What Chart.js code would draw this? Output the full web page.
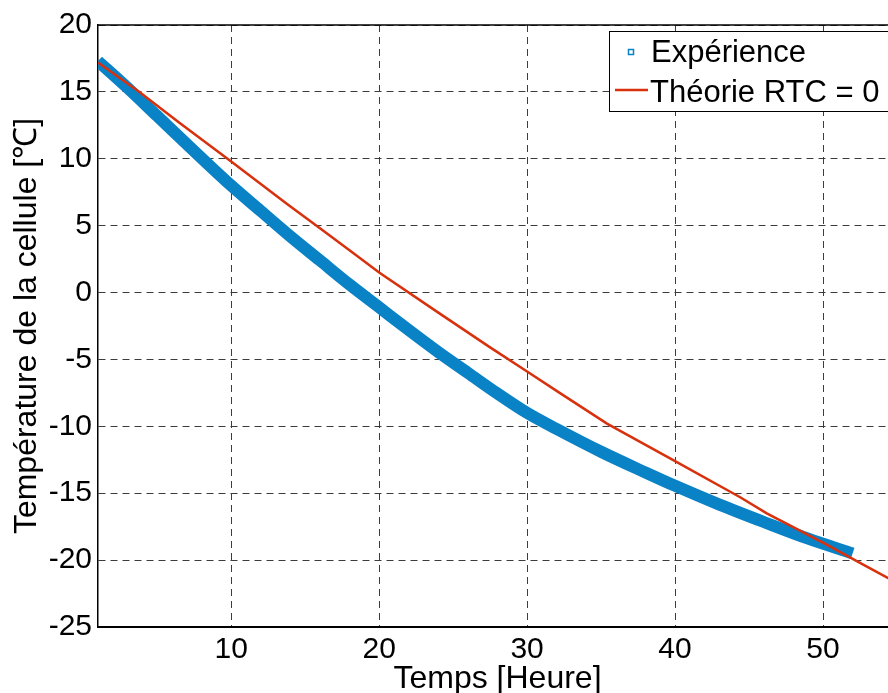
<!DOCTYPE html>
<html>
<head>
<meta charset="utf-8">
<script src="https://cdn.jsdelivr.net/npm/chart.js@4.4.1/dist/chart.umd.min.js"></script>
<style>
  html, body { margin: 0; padding: 0; background: #fff; overflow: hidden; }
  #wrap { width: 900px; height: 693px; }
</style>
</head>
<body>
<div id="wrap"><canvas id="chart" width="900" height="693"></canvas></div>
<script>
// measured cell temperature (thick blue band of square markers)
const expHours = [1, 3, 5, 7, 10, 12, 14, 16, 18, 20, 22, 24, 26, 28, 30, 32, 35, 38, 40, 43, 46, 49, 52];
const expTemps = [17.3, 15.3, 13.2, 11.1, 8.0, 6.1, 4.2, 2.4, 0.6, -1.1, -2.8, -4.45, -6.0, -7.55, -9.0, -10.2, -11.9, -13.45, -14.45, -15.85, -17.15, -18.4, -19.5];

// model, RTC = 0
const theoHours = [1, 3.8, 6.5, 10, 13.8, 16, 18.2, 20, 24, 27.5, 30, 32.2, 35.4, 40, 44.4, 46.2, 50, 52.5, 55];
const theoTemps = [17.2, 15.0, 12.7, 9.8, 6.6, 4.8, 3.0, 1.5, -1.5, -4.1, -5.9, -7.5, -9.8, -12.6, -15.3, -16.5, -18.7, -20.2, -21.7];

const xTicks = [10, 20, 30, 40, 50];
const legendLabels = ['Expérience', 'Théorie RTC = 0'];

const FONT = 'Liberation Sans, Arial, sans-serif';
const BLUE = '#0a82c6';
const RED = '#d8310d';

const toPoints = (xs, ys) => xs.map((x, i) => ({ x: x, y: ys[i] }));

// top frame line + MATLAB style legend box
const framePlugin = {
    id: 'frame',
    afterDraw(chart) {
        const { ctx, chartArea: a } = chart;
        ctx.save();
        ctx.strokeStyle = '#000';
        ctx.lineWidth = 1.5;
        ctx.beginPath();
        ctx.moveTo(a.left, a.top);
        ctx.lineTo(a.right, a.top);
        ctx.stroke();

        // legend
        ctx.fillStyle = '#fff';
        ctx.fillRect(609, 31, 284, 80);
        ctx.lineWidth = 1;
        ctx.strokeRect(609.5, 31.5, 284, 80);

        ctx.strokeStyle = BLUE;
        ctx.lineWidth = 1.5;
        ctx.strokeRect(628.5, 49.5, 5, 5);

        ctx.strokeStyle = RED;
        ctx.lineWidth = 2.5;
        ctx.beginPath();
        ctx.moveTo(615, 90);
        ctx.lineTo(648, 90);
        ctx.stroke();

        ctx.fillStyle = '#000';
        ctx.font = '31px ' + FONT;
        ctx.textBaseline = 'alphabetic';
        ctx.textAlign = 'left';
        ctx.fillText(legendLabels[0], 651, 62);
        ctx.fillText(legendLabels[1], 650, 102);
        ctx.restore();
    }
};

new Chart(document.getElementById('chart'), {
    type: 'line',
    data: {
        datasets: [
            {
                label: legendLabels[0],
                data: toPoints(expHours, expTemps),
                borderColor: BLUE,
                borderWidth: 12,
                pointRadius: 0,
                pointStyle: 'rect',
                cubicInterpolationMode: 'monotone',
                order: 1
            },
            {
                label: legendLabels[1],
                data: toPoints(theoHours, theoTemps),
                borderColor: RED,
                borderWidth: 2.5,
                pointRadius: 0,
                tension: 0,
                order: 0
            }
        ]
    },
    options: {
        responsive: false,
        animation: false,
        layout: { padding: { top: 25, right: 3, left: 0, bottom: 0 } },
        plugins: {
            legend: { display: false },
            tooltip: { enabled: false }
        },
        scales: {
            x: {
                type: 'linear',
                min: 1,
                max: 55,
                afterBuildTicks: scale => { scale.ticks = xTicks.map(v => ({ value: v })); },
                afterFit: scale => { scale.height = 66; },
                grid: { color: '#3c3c3c', lineWidth: 1, drawTicks: false },
                border: { color: '#000', width: 2, dash: [7, 5] },
                ticks: { color: '#000', padding: 5, maxRotation: 0, font: { family: FONT, size: 30 } },
                title: {
                    display: true,
                    text: 'Temps [Heure]',
                    color: '#000',
                    padding: 0,
                    font: { family: FONT, size: 32, lineHeight: 0.85 }
                }
            },
            y: {
                min: -25,
                max: 20,
                afterFit: scale => { scale.width = 98; },
                grid: { color: '#3c3c3c', lineWidth: 1, drawTicks: false },
                border: { color: '#000', width: 1.5, dash: [7, 5] },
                ticks: { color: '#000', stepSize: 5, padding: 6, font: { family: FONT, size: 30 } },
                title: {
                    display: true,
                    text: 'Température de la cellule [℃]',
                    color: '#000',
                    padding: { top: 8, bottom: 0 },
                    font: { family: FONT, size: 32 }
                }
            }
        }
    },
    plugins: [framePlugin]
});
</script>
</body>
</html>
